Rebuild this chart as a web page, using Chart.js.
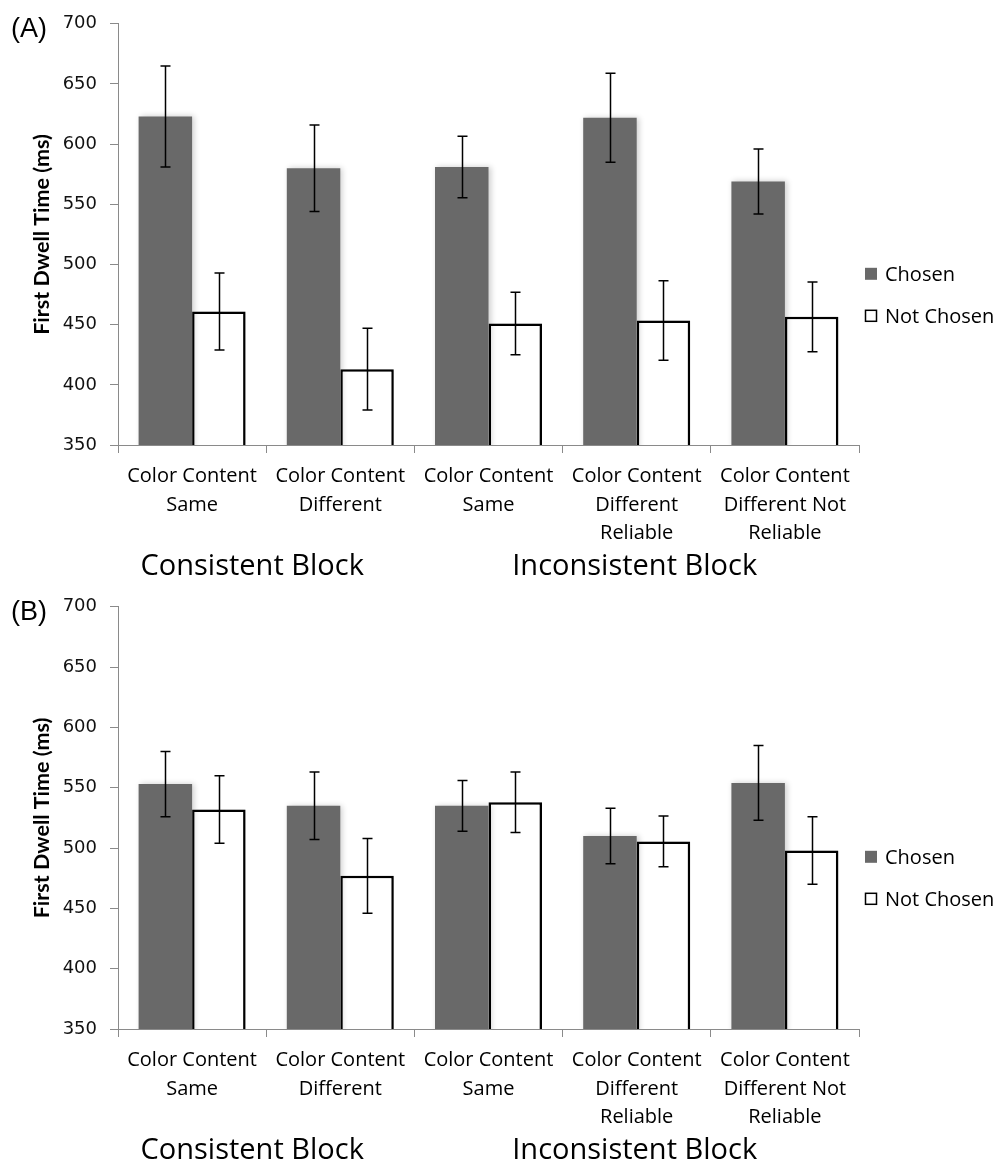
<!DOCTYPE html>
<html>
<head>
<meta charset="utf-8">
<script src="https://cdn.jsdelivr.net/npm/chart.js@4/dist/chart.umd.min.js"></script>
<style>
  html, body { margin: 0; padding: 0; background: #ffffff; }
  canvas { display: block; }
</style>
</head>
<body>
<canvas id="chartA" width="1000" height="583"></canvas>
<canvas id="chartB" width="1000" height="584"></canvas>
<script>
// ---------------- DATA ----------------
const categories = [
  ["Color Content", "Same"],
  ["Color Content", "Different"],
  ["Color Content", "Same"],
  ["Color Content", "Different", "Reliable"],
  ["Color Content", "Different Not", "Reliable"]
];
const seriesNames = ["Chosen", "Not Chosen"];
const yTickValues = [350, 400, 450, 500, 550, 600, 650, 700];
const groupLabels = ["Consistent Block", "Inconsistent Block"];
const groupFirstIndex = [0, 2];
const groupLastIndex = [1, 4];
const panelLetters = ["(A)", "(B)"];
const yAxisTitle = "First Dwell Time (ms)";

// Panel A
const chosenA = [623, 580, 581, 622, 569];
const chosenErrA = [42, 36, 25.5, 37, 27];
const notChosenA = [461, 413, 451, 453.5, 456.5];
const notChosenErrA = [32, 34, 26, 33, 29];

// Panel B
const chosenB = [553, 535, 535, 510, 554];
const chosenErrB = [27, 28, 21, 23, 31];
const notChosenB = [532, 477, 538, 505.5, 498];
const notChosenErrB = [28, 31, 25, 21, 28];

// ---------------- STYLE ----------------
const CHOSEN_COLOR = "#696969";
const AXIS_GREY = "#8a8a8a";

const shadowPlugin = {
  id: "barShadow",
  beforeDatasetsDraw(chart) {
    const ctx = chart.ctx;
    ctx.save();
    ctx.shadowColor = "rgba(0,0,0,0.20)";
    ctx.shadowBlur = 6;
    ctx.shadowOffsetX = 2;
    ctx.shadowOffsetY = 0;
  },
  afterDatasetsDraw(chart) {
    chart.ctx.restore();
  }
};

const errorBarPlugin = {
  id: "errorBars",
  afterDatasetsDraw(chart) {
    const ctx = chart.ctx;
    const ys = chart.scales.y;
    ctx.save();
    ctx.strokeStyle = "#000";
    ctx.lineWidth = 1.5;
    chart.data.datasets.forEach((ds, di) => {
      const meta = chart.getDatasetMeta(di);
      meta.data.forEach((bar, i) => {
        const v = ds.data[i], e = ds.errors[i];
        const x = Math.round(bar.x) + 0.5;
        const yt = ys.getPixelForValue(v + e);
        const yb = ys.getPixelForValue(v - e);
        const cap = 5;
        ctx.beginPath();
        ctx.moveTo(x, yt); ctx.lineTo(x, yb);
        ctx.moveTo(x - cap, yt); ctx.lineTo(x + cap, yt);
        ctx.moveTo(x - cap, yb); ctx.lineTo(x + cap, yb);
        ctx.stroke();
      });
    });
    ctx.restore();
  }
};

const decorPlugin = {
  id: "decor",
  afterDraw(chart) {
    const ctx = chart.ctx;
    const area = chart.chartArea;
    const xs = chart.scales.x;
    const opts = chart.options.plugins.decor;
    ctx.save();
    // panel letter
    ctx.fillStyle = "#000";
    ctx.font = "27px 'Liberation Sans', Arial, sans-serif";
    ctx.textAlign = "left";
    ctx.textBaseline = "alphabetic";
    ctx.fillText(opts.letter, 11, area.top + 13);

    // group labels
    ctx.font = "29px 'Open Sans', sans-serif";
    ctx.textAlign = "center";
    groupLabels.forEach((g, k) => {
      const cx = (xs.getPixelForValue(groupFirstIndex[k]) + xs.getPixelForValue(groupLastIndex[k])) / 2;
      ctx.fillText(g, cx - (k === 0 ? 14 : 2), area.bottom + 130);
    });

    // legend
    ctx.font = "20px 'Open Sans', sans-serif";
    ctx.textAlign = "left";
    ctx.textBaseline = "middle";
    const lx = area.right + 6;
    const ly = [area.top + 250, area.top + 292];
    chart.data.datasets.forEach((ds, i) => {
      if (i === 0) {
        ctx.fillStyle = CHOSEN_COLOR;
        ctx.fillRect(lx, ly[i] - 6, 12, 12);
      } else {
        ctx.fillStyle = "#fff";
        ctx.fillRect(lx, ly[i] - 6, 12, 12);
        ctx.strokeStyle = "#000";
        ctx.lineWidth = 1.5;
        ctx.strokeRect(lx + 0.5, ly[i] - 5.5, 11, 11);
      }
      ctx.fillStyle = "#000";
      ctx.fillText(ds.label, lx + 20, ly[i] + 1);
    });
    ctx.restore();
  }
};

function buildChart(canvasId, letter, chosen, chosenErr, notChosen, notChosenErr) {
  return new Chart(document.getElementById(canvasId), {
    type: "bar",
    data: {
      labels: categories,
      datasets: [
        {
          label: seriesNames[0],
          data: chosen,
          errors: chosenErr,
          backgroundColor: CHOSEN_COLOR,
          borderWidth: 0,
          categoryPercentage: 0.722,
          barPercentage: 1.0
        },
        {
          label: seriesNames[1],
          data: notChosen,
          errors: notChosenErr,
          backgroundColor: "#ffffff",
          borderColor: "#000000",
          borderWidth: 2.5,
          borderSkipped: false,
          categoryPercentage: 0.722,
          barPercentage: 1.0
        }
      ]
    },
    options: {
      responsive: false,
      animation: false,
      devicePixelRatio: 1,
      layout: { padding: { left: 0, right: 141, top: 21, bottom: 0 } },
      plugins: {
        legend: { display: false },
        tooltip: { enabled: false },
        decor: { letter: letter }
      },
      scales: {
        x: {
          type: "category",
          offset: true,
          grid: {
            display: true,
            offset: true,
            drawOnChartArea: false,
            drawTicks: true,
            tickLength: 8,
            color: AXIS_GREY,
            lineWidth: 1
          },
          border: { display: true, color: AXIS_GREY, width: 1 },
          ticks: {
            autoSkip: false,
            maxRotation: 0,
            minRotation: 0,
            padding: 9,
            color: "#000",
            font: { family: "'Open Sans', sans-serif", size: 20, lineHeight: "28.7px" }
          },
          afterFit(scale) { scale.height = 138; }
        },
        y: {
          min: 350,
          max: 700,
          afterBuildTicks(scale) {
            scale.ticks = yTickValues.map(v => ({ value: v }));
          },
          grid: {
            display: true,
            drawOnChartArea: false,
            drawTicks: true,
            tickLength: 8,
            color: AXIS_GREY,
            lineWidth: 1
          },
          border: { display: true, color: AXIS_GREY, width: 1 },
          ticks: {
            padding: 13,
            color: "#111",
            font: { family: "'DejaVu Sans', sans-serif", size: 18 }
          },
          title: {
            display: true,
            text: yAxisTitle,
            color: "#000",
            padding: { top: 29, bottom: 0 },
            font: { family: "Lato, 'Open Sans', sans-serif", size: 21.5, weight: "bold", lineHeight: 1.2 }
          },
          afterFit(scale) { scale.width = 118; }
        }
      }
    },
    plugins: [shadowPlugin, errorBarPlugin, decorPlugin]
  });
}

buildChart("chartA", panelLetters[0], chosenA, chosenErrA, notChosenA, notChosenErrA);
buildChart("chartB", panelLetters[1], chosenB, chosenErrB, notChosenB, notChosenErrB);
</script>
</body>
</html>
